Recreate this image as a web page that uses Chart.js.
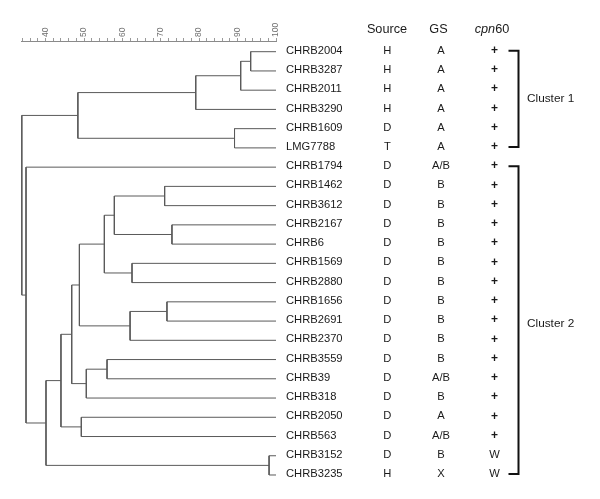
<!DOCTYPE html>
<html><head><meta charset="utf-8">
<script src="https://cdn.jsdelivr.net/npm/chart.js@4"></script>
<style>html,body{margin:0;padding:0;background:#fff}canvas{display:block}</style>
</head><body>
<canvas id="c" width="600" height="499" style="width:600px;height:499px"></canvas>
<script>
const leaves = ['CHRB2004','CHRB3287','CHRB2011','CHRB3290','CHRB1609','LMG7788','CHRB1794','CHRB1462','CHRB3612','CHRB2167','CHRB6','CHRB1569','CHRB2880','CHRB1656','CHRB2691','CHRB2370','CHRB3559','CHRB39','CHRB318','CHRB2050','CHRB563','CHRB3152','CHRB3235'];
const source = ['H','H','H','H','D','T','D','D','D','D','D','D','D','D','D','D','D','D','D','D','D','D','H'];
const gs = ['A','A','A','A','A','A','A/B','B','B','B','B','B','B','B','B','B','B','A/B','B','A','A/B','B','X'];
const cpn60 = ['+','+','+','+','+','+','+','+','+','+','+','+','+','+','+','+','+','+','+','+','+','W','W'];
// merges: [childA, childB, similarity]; ids >= leaves.length refer to earlier merges
const merges = [
  [0,1,93.4],[23,2,90.8],[24,3,79.1],[4,5,89.2],[25,26,48.4],
  [7,8,71.0],[9,10,72.9],[28,29,57.9],[11,12,62.5],[30,31,55.3],
  [13,14,71.6],[33,15,62.0],[32,34,48.8],[16,17,56.0],[36,18,50.6],
  [35,37,46.8],[19,20,49.3],[38,39,44.0],[21,22,98.2],[40,41,40.1],
  [6,42,34.9],[27,43,33.8]
];
const axisLabels = [40,50,60,70,80,90,100];
const axisMin = 33.8, axisMax = 100, minorStep = 2;
const clusterNames = ['Cluster 1','Cluster 2'];
const clusterStart = [0,6];
const clusterEnd = [5,22];
const clusterLabelPos = [2.5,14.2];

const n = leaves.length;
const nodeX = [], nodeY = [];
for (let i=0;i<n;i++){ nodeX.push(axisMax); nodeY.push(i); }
const datasets = [];
merges.forEach(([a,b,h])=>{
  nodeX.push(h); nodeY.push((nodeY[a]+nodeY[b])/2);
  datasets.push({
    data:[{x:nodeX[a],y:nodeY[a]},{x:h,y:nodeY[a]},{x:h,y:nodeY[b]},{x:nodeX[b],y:nodeY[b]}],
    showLine:true, borderColor:'#5a5a5a', borderWidth:1, pointRadius:0, fill:false, clip:false, tension:0
  });
});

const FONT = '"Liberation Sans", Arial, sans-serif';
const textPlugin = {
  id:'texts',
  afterDraw(chart){
    const ctx = chart.ctx, ys = chart.scales.y;
    ctx.save();
    ctx.fillStyle = '#1a1a1a';
    ctx.textBaseline = 'middle';
    // headers
    ctx.font = '12.7px ' + FONT;
    ctx.textAlign = 'center';
    ctx.fillText('Source', 387, 29);
    ctx.fillText('GS', 438.5, 29);
    ctx.textAlign = 'left';
    ctx.font = 'italic 12.7px ' + FONT;
    const w1 = ctx.measureText('cpn').width;
    ctx.font = '12.7px ' + FONT;
    const w2 = ctx.measureText('60').width;
    const sx = 492 - (w1+w2)/2;
    ctx.font = 'italic 12.7px ' + FONT;
    ctx.fillText('cpn', sx, 29);
    ctx.font = '12.7px ' + FONT;
    ctx.fillText('60', sx + w1, 29);
    // rows
    ctx.font = '11.2px ' + FONT;
    leaves.forEach((name,i)=>{
      const y = ys.getPixelForValue(i) - 1;
      ctx.textAlign = 'left';
      ctx.fillText(name, 286, y);
      ctx.textAlign = 'center';
      ctx.fillText(source[i], 387.3, y);
      ctx.fillText(gs[i], 441, y);
      ctx.font = (cpn60[i]==='+' ? 'bold 12px ' : '11.2px ') + FONT;
      ctx.fillText(cpn60[i], 494.5, y);
      ctx.font = '11.2px ' + FONT;
    });
    // brackets
    ctx.strokeStyle = '#111';
    ctx.lineWidth = 2;
    clusterNames.forEach((nm,k)=>{
      const y0 = ys.getPixelForValue(clusterStart[k]) - 1;
      const y1 = ys.getPixelForValue(clusterEnd[k]) - 1;
      ctx.beginPath();
      ctx.moveTo(508.5, y0); ctx.lineTo(518.5, y0); ctx.lineTo(518.5, y1); ctx.lineTo(508.5, y1);
      ctx.stroke();
      ctx.font = '11.8px ' + FONT;
      ctx.textAlign = 'left';
      ctx.fillText(nm, 527, ys.getPixelForValue(clusterLabelPos[k]) - 1);
    });
    ctx.restore();
  }
};

new Chart(document.getElementById('c'), {
  type:'scatter',
  data:{datasets},
  plugins:[textPlugin],
  options:{
    responsive:false, animation:false,
    layout:{padding:{left:21.8, right:324, top:0, bottom:4.76}},
    plugins:{legend:{display:false}, tooltip:{enabled:false}},
    scales:{
      x:{
        type:'linear', position:'top', min:axisMin, max:axisMax,
        afterBuildTicks:s=>{ const t=[]; for(let v=Math.ceil(axisMin/minorStep)*minorStep; v<=axisMax; v+=minorStep) t.push({value:v}); s.ticks=t; },
        afterFit:s=>{ s.height = 41; },
        grid:{drawOnChartArea:false, drawTicks:true, tickLength:3, color:'#9a9a9a', lineWidth:1},
        border:{display:true, color:'#8a8a8a', width:1},
        ticks:{autoSkip:false, minRotation:90, maxRotation:90, padding:1, labelOffset:10, color:'#707070',
          font:{size:8.5, family:'Liberation Sans'},
          callback:v=> axisLabels.includes(v) ? String(v) : ''}
      },
      y:{type:'linear', reverse:true, min:-0.556, max:23, display:false}
    }
  }
});
</script>
</body></html>
